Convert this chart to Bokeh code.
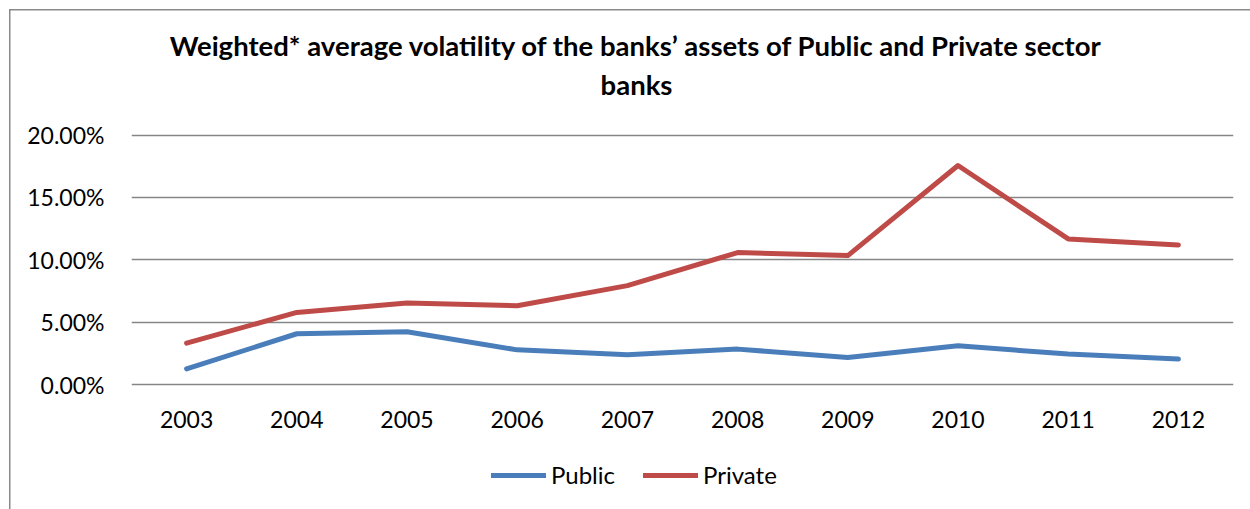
from bokeh.plotting import figure
from bokeh.models import (Range1d, FixedTicker, NumeralTickFormatter, Legend, LegendItem, Label)
from bokeh.embed import file_html
from bokeh.resources import INLINE

years = ["2003", "2004", "2005", "2006", "2007", "2008", "2009", "2010", "2011", "2012"]
public = [0.0128, 0.0409, 0.0425, 0.0280, 0.0240, 0.0286, 0.0219, 0.0313, 0.0246, 0.0206]
private = [0.0334, 0.0580, 0.0655, 0.0633, 0.0794, 0.1059, 0.1035, 0.1756, 0.1168, 0.1120]
y_ticks = [0.0, 0.05, 0.10, 0.15, 0.20]
title_line1 = "Weighted* average volatility of the banks\u2019 assets of Public and Private sector"
title_line2 = "banks"

FONT = "Lato"

p = figure(x_range=years, y_range=Range1d(-0.0998, 0.3077), width=1250, height=509,
           output_backend="svg", toolbar_location=None, title=None,
           min_border_left=131, min_border_right=17, min_border_top=0, min_border_bottom=0)
p.styles = {"background": "linear-gradient(#898989, #898989) 9px 9px / 1.5px 100% no-repeat, "
                          "linear-gradient(#898989, #898989) 9px 9px / 100% 1.5px no-repeat, #ffffff"}

p.outline_line_color = None
p.background_fill_alpha = 0
p.border_fill_alpha = 0

r_pub = p.line(years, public, line_color="#4A7EBB", line_width=5, line_cap="round", line_join="round")
r_pri = p.line(years, private, line_color="#BE4B48", line_width=5, line_cap="round", line_join="round")

p.xgrid.grid_line_color = None
p.ygrid.grid_line_color = "#868686"
p.ygrid.grid_line_width = 1.5
p.yaxis.ticker = FixedTicker(ticks=y_ticks)
p.ygrid.ticker = FixedTicker(ticks=y_ticks)
p.yaxis.formatter = NumeralTickFormatter(format="0.00%")
p.xaxis.fixed_location = 0

for ax in (p.xaxis[0], p.yaxis[0]):
    ax.axis_line_color = None
    ax.major_tick_line_color = None
    ax.minor_tick_line_color = None
    ax.major_label_text_font = FONT
    ax.major_label_text_font_size = "23px"
    ax.major_label_text_color = "black"
p.yaxis.major_label_standoff = 21
p.xaxis.major_label_standoff = 20

for txt, ypos in ((title_line1, 464), (title_line2, 425)):
    p.add_layout(Label(x=505, y=ypos, x_units="screen", y_units="screen", text=txt,
                       text_align="center", text_baseline="middle", text_font=FONT,
                       text_font_style="bold", text_font_size="27.5px", text_color="black"))

legend = Legend(items=[LegendItem(label="Public", renderers=[r_pub]),
                       LegendItem(label="Private", renderers=[r_pri])],
                orientation="horizontal", location=(360, 20),
                glyph_width=55, glyph_height=20, label_standoff=5, spacing=28,
                padding=0, margin=0, border_line_color=None, background_fill_alpha=0,
                label_text_font=FONT, label_text_font_size="24px", label_text_color="black")
p.add_layout(legend, "center")

open("out.html", "w").write(file_html(p, INLINE))
